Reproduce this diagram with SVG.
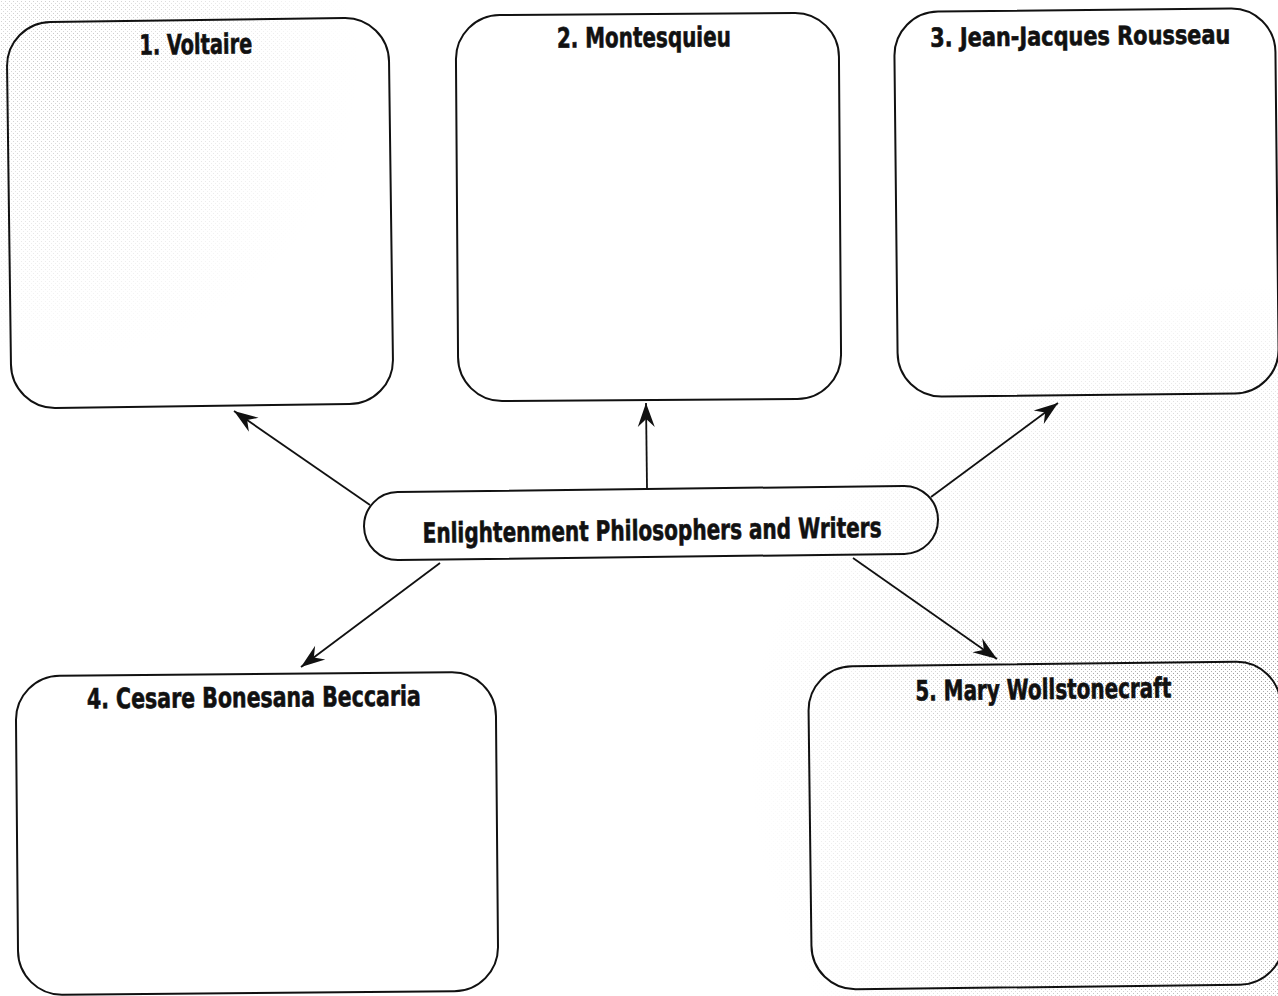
<svg xmlns="http://www.w3.org/2000/svg" width="1278" height="996" viewBox="0 0 1278 996">
  <style>
    .box { fill: none; stroke: #111; stroke-width: 2; }
    .title { font-family: "Liberation Sans Narrow", "DejaVu Sans Condensed", "Roboto Condensed", "Liberation Sans", sans-serif; font-stretch: condensed; font-weight: bold; font-size: 28px; fill: #111; stroke: #111; stroke-width: 0.6; }
    .conn { stroke: #111; stroke-width: 1.8; fill: none; marker-end: url(#arrow); }
  </style>
  <defs>
    <marker id="arrow" markerUnits="userSpaceOnUse" markerWidth="28" markerHeight="20" viewBox="-24 -10 26 20" refX="0" refY="0" orient="auto">
      <path d="M0,0 L-24,-8.5 L-16,0 L-24,8.5 Z" fill="#111"/>
    </marker>
    <pattern id="dots" width="4" height="4" patternUnits="userSpaceOnUse">
      <rect x="1" y="1" width="1" height="1" fill="#8a8a8a"/>
      <rect x="3" y="3" width="1" height="1" fill="#a0a0a0"/>
    </pattern>
    <radialGradient id="fadeR" cx="1230" cy="760" r="480" gradientUnits="userSpaceOnUse">
      <stop offset="0" stop-color="#fff" stop-opacity="1"/>
      <stop offset="0.5" stop-color="#fff" stop-opacity="0.55"/>
      <stop offset="1" stop-color="#fff" stop-opacity="0"/>
    </radialGradient>
    <radialGradient id="fadeL" cx="60" cy="60" r="300" gradientUnits="userSpaceOnUse">
      <stop offset="0" stop-color="#fff" stop-opacity="0.5"/>
      <stop offset="1" stop-color="#fff" stop-opacity="0"/>
    </radialGradient>
    <mask id="mR"><rect width="1278" height="996" fill="url(#fadeR)"/></mask>
    <mask id="mL"><rect width="1278" height="996" fill="url(#fadeL)"/></mask>
  </defs>

  <rect width="1278" height="996" fill="#fff"/>
  <g id="texture">
    <rect width="1278" height="996" fill="url(#dots)" mask="url(#mR)"/>
    <rect width="1278" height="996" fill="url(#dots)" mask="url(#mL)"/>
  </g>

  <g id="connectors">
    <line class="conn" x1="370" y1="505" x2="234" y2="411"/>
    <line class="conn" x1="647" y1="488" x2="646" y2="403"/>
    <line class="conn" x1="931" y1="497" x2="1058" y2="403"/>
    <line class="conn" x1="440" y1="563" x2="301" y2="667"/>
    <line class="conn" x1="853" y1="558" x2="997" y2="659"/>
  </g>

  <g id="voltaire" transform="rotate(-0.75 200 213)">
    <rect class="box" x="9" y="20" width="382" height="386" rx="44"/>
    <text class="title" x="198" y="54" text-anchor="middle" textLength="113" lengthAdjust="spacingAndGlyphs">1. Voltaire</text>
  </g>

  <g id="montesquieu" transform="rotate(-0.4 648 207)">
    <rect class="box" x="457" y="14" width="383" height="386" rx="44"/>
    <text class="title" x="645" y="47" text-anchor="middle" textLength="174" lengthAdjust="spacingAndGlyphs">2. Montesquieu</text>
  </g>

  <g id="rousseau" transform="rotate(-0.6 1087 202)">
    <rect class="box" x="896" y="10" width="381" height="385" rx="44"/>
    <text class="title" x="1082" y="45" text-anchor="middle" textLength="300" lengthAdjust="spacingAndGlyphs" style="font-size:26px">3. Jean-Jacques Rousseau</text>
  </g>

  <g id="center" transform="rotate(-0.7 651 523)">
    <rect class="box" x="364" y="489" width="574" height="68" rx="34"/>
    <text class="title" x="652" y="540" text-anchor="middle" textLength="459" lengthAdjust="spacingAndGlyphs">Enlightenment Philosophers and Writers</text>
  </g>

  <g id="beccaria" transform="rotate(-0.5 257 834)">
    <rect class="box" x="17" y="674" width="480" height="319" rx="44"/>
    <text class="title" x="255" y="707" text-anchor="middle" textLength="334" lengthAdjust="spacingAndGlyphs">4. Cesare Bonesana Beccaria</text>
  </g>

  <g id="wollstonecraft" transform="rotate(-0.7 1046 826)">
    <rect class="box" x="810" y="664" width="472" height="323" rx="44"/>
    <text class="title" x="1045" y="699" text-anchor="middle" textLength="256" lengthAdjust="spacingAndGlyphs">5. Mary Wollstonecraft</text>
  </g>
</svg>
